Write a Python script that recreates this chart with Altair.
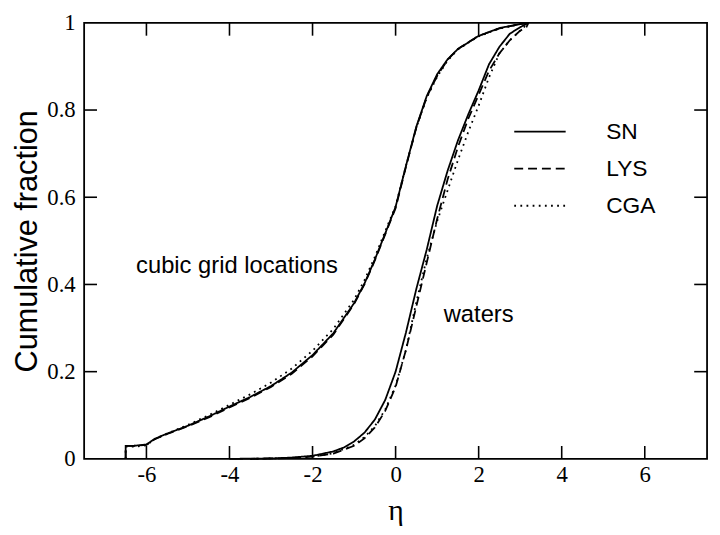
import altair as alt
import pandas as pd

# ---------------- data ----------------
series_names = ["SN", "LYS", "CGA"]

# cubic grid locations
cubic_eta = [-6.5, -6.5, -6.3, -6.0, -5.8, -5.5, -5.0, -4.5, -4.0, -3.5, -3.0, -2.5,
             -2.0, -1.5, -1.0, -0.75, -0.5, -0.25, 0.0, 0.25, 0.5, 0.75, 1.0, 1.25,
             1.5, 2.0, 2.5, 3.0, 3.2]
cubic_sn = [0.0, 0.03, 0.03, 0.033, 0.046, 0.058, 0.076, 0.097, 0.12, 0.142, 0.167, 0.198,
            0.238, 0.288, 0.357, 0.402, 0.457, 0.517, 0.578, 0.672, 0.762, 0.832, 0.882, 0.916,
            0.94, 0.97, 0.988, 0.997, 1.0]
cubic_lys = [0.0, 0.03, 0.03, 0.032, 0.045, 0.057, 0.075, 0.095, 0.118, 0.14, 0.165, 0.195,
             0.235, 0.285, 0.355, 0.40, 0.455, 0.515, 0.575, 0.67, 0.76, 0.83, 0.878, 0.915,
             0.94, 0.97, 0.987, 0.997, 1.0]
cubic_cga = [0.0, 0.028, 0.028, 0.031, 0.045, 0.058, 0.078, 0.10, 0.124, 0.148, 0.175, 0.207,
             0.248, 0.298, 0.365, 0.41, 0.463, 0.522, 0.58, 0.672, 0.76, 0.828, 0.876, 0.913,
             0.939, 0.969, 0.987, 0.997, 1.0]

# waters
waters_sn_eta = [-4.0, -3.0, -2.5, -2.0, -1.5, -1.25, -1.0, -0.75, -0.5, -0.25, 0.0, 0.25,
                 0.5, 0.75, 1.0, 1.25, 1.5, 1.75, 2.0, 2.25, 2.5, 2.75, 3.0, 3.2]
waters_sn = [0.0, 0.001, 0.003, 0.007, 0.017, 0.026, 0.04, 0.06, 0.09, 0.135, 0.2, 0.29,
             0.39, 0.48, 0.58, 0.66, 0.73, 0.79, 0.845, 0.905, 0.945, 0.975, 0.99, 1.0]
waters_lys_eta = [-3.5, -2.5, -2.0, -1.5, -1.0, -0.75, -0.5, -0.25, 0.0, 0.25, 0.5, 0.75,
                  1.0, 1.25, 1.5, 1.75, 2.0, 2.25, 2.5, 2.75, 3.0, 3.15, 3.2]
waters_lys = [0.0, 0.002, 0.005, 0.012, 0.03, 0.047, 0.072, 0.11, 0.165, 0.25, 0.35, 0.45,
              0.55, 0.64, 0.715, 0.78, 0.835, 0.89, 0.93, 0.96, 0.982, 0.99, 1.0]
waters_cga_eta = [-3.5, -2.5, -2.0, -1.5, -1.0, -0.75, -0.5, -0.25, 0.0, 0.25, 0.5, 0.75,
                  1.0, 1.25, 1.5, 1.75, 2.0, 2.25, 2.5, 2.75, 3.0, 3.2]
waters_cga = [0.0, 0.002, 0.005, 0.013, 0.032, 0.05, 0.075, 0.113, 0.168, 0.25, 0.36, 0.46,
              0.545, 0.615, 0.685, 0.75, 0.81, 0.875, 0.93, 0.96, 0.982, 1.0]

x_ticks = [-6, -4, -2, 0, 2, 4, 6]
y_ticks = [0.2, 0.4, 0.6, 0.8]
y_labels = [0, 0.2, 0.4, 0.6, 0.8, 1]

annot_text = ["cubic grid locations", "waters"]
annot_eta = [-3.82, 2.0]
annot_frac = [0.441, 0.33]

# ---------------- build table ----------------
rows = []
curves = [
    ("cubic", "SN", cubic_eta, cubic_sn),
    ("cubic", "LYS", cubic_eta, cubic_lys),
    ("cubic", "CGA", cubic_eta, cubic_cga),
    ("waters", "SN", waters_sn_eta, waters_sn),
    ("waters", "LYS", waters_lys_eta, waters_lys),
    ("waters", "CGA", waters_cga_eta, waters_cga),
]
for grp, name, xs, ys in curves:
    for i, (xv, yv) in enumerate(zip(xs, ys)):
        rows.append({"eta": xv, "frac": yv, "series": name, "curve": grp + name, "idx": i})
df = pd.DataFrame(rows)

W, H = 630, 441
TL = 13

xscale = alt.Scale(domain=[-7.5, 7.5], nice=False, zero=False)
yscale = alt.Scale(domain=[0, 1], nice=False)

xaxis = alt.Axis(values=x_ticks, ticks=False, tickSize=0, domain=False, grid=False,
                 labelFont="Liberation Serif", labelFontSize=23, labelPadding=5,
                 labelColor="black", labelExpr="'' + datum.value",
                 title="η", titleFont="Liberation Serif", titleFontSize=30,
                 titleFontWeight="normal", titleColor="black",
                 titleX=W / 2, titleY=61, titleBaseline="alphabetic")
yaxis = alt.Axis(values=y_labels, ticks=False, tickSize=0, domain=False, grid=False,
                 labelFont="Liberation Serif", labelFontSize=23, labelPadding=9,
                 labelColor="black", format=".1~f",
                 title="Cumulative fraction", titleFont="Liberation Sans", titleFontSize=31,
                 titleFontWeight="normal", titleColor="black",
                 titleX=-48, titleY=H / 2, titleBaseline="alphabetic", titleAngle=-90)

dash_range = [[1, 0], [9, 5], [1.8, 4.4]]

lines = alt.Chart(df).mark_line(color="black", strokeWidth=1.8).encode(
    x=alt.X("eta:Q", scale=xscale, axis=xaxis),
    y=alt.Y("frac:Q", scale=yscale, axis=yaxis),
    detail="curve:N",
    order=alt.Order("idx:Q"),
    strokeDash=alt.StrokeDash("series:N", scale=alt.Scale(domain=series_names, range=dash_range),
                              legend=None),
)

xt = pd.DataFrame({"v": x_ticks})
yt = pd.DataFrame({"v": y_ticks})
tick_layers = [
    alt.Chart(xt).mark_rule(color="black", strokeWidth=1.6).encode(
        x=alt.X("v:Q", scale=xscale), y=alt.value(H), y2=alt.value(H - TL)),
    alt.Chart(xt).mark_rule(color="black", strokeWidth=1.6).encode(
        x=alt.X("v:Q", scale=xscale), y=alt.value(0), y2=alt.value(TL)),
    alt.Chart(yt).mark_rule(color="black", strokeWidth=1.6).encode(
        y=alt.Y("v:Q", scale=yscale), x=alt.value(0), x2=alt.value(TL)),
    alt.Chart(yt).mark_rule(color="black", strokeWidth=1.6).encode(
        y=alt.Y("v:Q", scale=yscale), x=alt.value(W), x2=alt.value(W - TL)),
]

annot_df = pd.DataFrame({"t": annot_text, "eta": annot_eta, "frac": annot_frac})
annots = alt.Chart(annot_df).mark_text(font="Liberation Sans", fontSize=24, color="black",
                                       align="center", baseline="middle").encode(
    x=alt.X("eta:Q", scale=xscale), y=alt.Y("frac:Q", scale=yscale), text="t:N")

legend_layers = []
for i, name in enumerate(series_names):
    ld = pd.DataFrame({"label": [name]})
    ypix = 110 + i * 37.5
    legend_layers.append(
        alt.Chart(ld).mark_rule(color="black", strokeWidth=1.8,
                                strokeDash=dash_range[i]).encode(
            x=alt.value(435), x2=alt.value(487), y=alt.value(ypix)))
    legend_layers.append(
        alt.Chart(ld).mark_text(font="Liberation Sans", fontSize=23, color="black",
                                align="left", baseline="middle").encode(
            x=alt.value(528), y=alt.value(ypix), text="label:N"))

chart = alt.layer(lines, *tick_layers, annots, *legend_layers).properties(
    width=W, height=H,
    autosize=alt.AutoSizeParams(type="none"),
    padding={"left": 77, "top": 12, "right": 5, "bottom": 74},
    background="white",
).configure_view(stroke="black", strokeWidth=1.8)

chart.save("out.html", embed_options={"renderer": "svg", "actions": False})
